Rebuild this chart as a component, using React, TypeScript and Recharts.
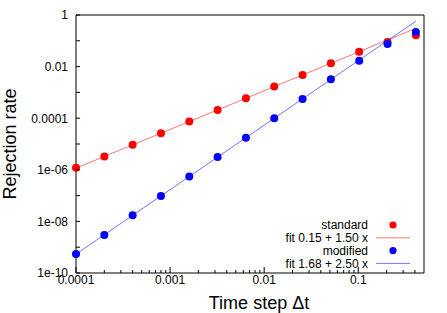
import React from 'react';
import { ComposedChart, Scatter, XAxis, YAxis } from 'recharts';

const timeSteps = [0.0001, 0.0002, 0.0004, 0.0008, 0.0016, 0.0032, 0.0064, 0.0128, 0.0256, 0.0512, 0.1024, 0.2048, 0.4096];
const standardRates = [1.2e-6, 3.3e-6, 9.3e-6, 2.6e-5, 7.4e-5, 2.1e-4, 5.9e-4, 1.68e-3, 4.75e-3, 0.0134, 0.038, 0.09, 0.165];
const modifiedRates = [5.4e-10, 3.0e-9, 1.72e-8, 9.7e-8, 5.5e-7, 3.1e-6, 1.76e-5, 9.9e-5, 5.6e-4, 3.2e-3, 0.017, 0.075, 0.22];

const fitX = [0.0001, 0.4096];
const standardFitY = [1.16e-6, 0.304];
const modifiedFitY = [5.37e-10, 0.576];

const seriesNames = ['standard', 'fit 0.15 + 1.50 x', 'modified', 'fit 1.68 + 2.50 x'];

const xMajorTicks = [0.0001, 0.001, 0.01, 0.1];
const xTickLabels = ['0.0001', '0.001', '0.01', '0.1'];
const xMinorTicks = [
  0.0002, 0.0003, 0.0004, 0.0005, 0.0006, 0.0007, 0.0008, 0.0009,
  0.002, 0.003, 0.004, 0.005, 0.006, 0.007, 0.008, 0.009,
  0.02, 0.03, 0.04, 0.05, 0.06, 0.07, 0.08, 0.09,
  0.2, 0.3, 0.4,
];
const yTicks = [1e-10, 1e-9, 1e-8, 1e-7, 1e-6, 1e-5, 1e-4, 1e-3, 1e-2, 1e-1, 1];
const yTickLabels = ['1e-10', '', '1e-08', '', '1e-06', '', '0.0001', '', '0.01', '', '1'];

const RED = '#ff0000';
const BLUE = '#0000ff';
const FONT = '"Liberation Sans", Arial, Helvetica, sans-serif';

const standardData = timeSteps.map((x, i) => ({ x, y: standardRates[i] }));
const modifiedData = timeSteps.map((x, i) => ({ x, y: modifiedRates[i] }));
const standardFit = fitX.map((x, i) => ({ x, y: standardFitY[i] }));
const modifiedFit = fitX.map((x, i) => ({ x, y: modifiedFitY[i] }));

const allXTicks = [...xMajorTicks, ...xMinorTicks];

const BottomTick = (props: any) => {
  const { x, y, payload } = props;
  const idx = xMajorTicks.indexOf(payload.value);
  const major = idx >= 0;
  return (
    <g>
      <line x1={x} x2={x} y1={y} y2={y - (major ? 6 : 3)} stroke="#000" strokeWidth={1} />
      {major && (
        <text x={x} y={y + 11} textAnchor="middle" fontSize={12} fontFamily={FONT} fill="#000">
          {xTickLabels[idx]}
        </text>
      )}
    </g>
  );
};

const TopTick = (props: any) => {
  const { x, y, payload } = props;
  const major = xMajorTicks.indexOf(payload.value) >= 0;
  return <line x1={x} x2={x} y1={y} y2={y + (major ? 6 : 3)} stroke="#000" strokeWidth={1} />;
};

const LeftTick = (props: any) => {
  const { x, y, payload } = props;
  const idx = yTicks.indexOf(payload.value);
  const label = idx >= 0 ? yTickLabels[idx] : '';
  return (
    <g>
      <line x1={x} x2={x + 4} y1={y} y2={y} stroke="#000" strokeWidth={1} />
      {label && (
        <text x={x - 8} y={y + 4.3} textAnchor="end" fontSize={12} fontFamily={FONT} fill="#000">
          {label}
        </text>
      )}
    </g>
  );
};

const RightTick = (props: any) => {
  const { x, y } = props;
  return <line x1={x} x2={x - 4} y1={y} y2={y} stroke="#000" strokeWidth={1} />;
};

const Dot = (color: string) => (props: any) => (
  <circle cx={props.cx} cy={props.cy} r={4} fill={color} />
);
const NoShape = () => <g />;

const LegendOverlay = () => {
  const rows = [
    { name: seriesNames[0], color: RED, kind: 'dot' },
    { name: seriesNames[1], color: RED, kind: 'line' },
    { name: seriesNames[2], color: BLUE, kind: 'dot' },
    { name: seriesNames[3], color: BLUE, kind: 'line' },
  ];
  return (
    <svg width={447} height={313} style={{ position: 'absolute', left: 0, top: 0, pointerEvents: 'none' }}>
      {rows.map((r, i) => {
        const cy = 225 + i * 12.8;
        return (
          <g key={r.name}>
            <text x={368} y={cy + 4.3} textAnchor="end" fontSize={12} fontFamily={FONT} fill="#000">
              {r.name}
            </text>
            {r.kind === 'dot' ? (
              <circle cx={393} cy={cy} r={3.6} fill={r.color} />
            ) : (
              <line x1={376} x2={410} y1={cy} y2={cy} stroke={r.color} strokeOpacity={0.55} strokeWidth={1} />
            )}
          </g>
        );
      })}
    </svg>
  );
};

const XLabel = (props: any) => {
  const vb = props.viewBox || {};
  return (
    <text x={vb.x + vb.width / 2 + 9} y={309} textAnchor="middle" fontSize={18} fontFamily={FONT} fill="#000">
      Time step Δt
    </text>
  );
};

const YLabel = (props: any) => {
  const vb = props.viewBox || {};
  const cy = vb.y + vb.height / 2;
  return (
    <text
      x={16}
      y={cy}
      transform={`rotate(-90 16 ${cy})`}
      textAnchor="middle"
      fontSize={18}
      fontFamily={FONT}
      fill="#000"
    >
      Rejection rate
    </text>
  );
};

export default function App() {
  return (
    <div style={{ position: 'absolute', left: 0, top: 0, width: 447, height: 313, background: '#fff' }}>
      <ComposedChart width={447} height={313} margin={{ top: 14, right: 22, bottom: 39, left: 75 }}>
        <XAxis
          xAxisId="b"
          type="number"
          dataKey="x"
          scale="log"
          domain={[0.0001, 0.5]}
          ticks={allXTicks}
          interval={0}
          tick={<BottomTick />}
          tickLine={false}
          tickSize={0}
          tickMargin={0}
          height={1}
          axisLine={{ stroke: '#000' }}
          orientation="bottom"
          label={<XLabel />}
        />
        <XAxis
          xAxisId="t"
          type="number"
          dataKey="x"
          scale="log"
          domain={[0.0001, 0.5]}
          ticks={allXTicks}
          interval={0}
          tick={<TopTick />}
          tickLine={false}
          tickSize={0}
          tickMargin={0}
          height={1}
          axisLine={{ stroke: '#000' }}
          orientation="top"
        />
        <YAxis
          yAxisId="l"
          type="number"
          dataKey="y"
          scale="log"
          domain={[1e-10, 1]}
          ticks={yTicks}
          interval={0}
          tick={<LeftTick />}
          tickLine={false}
          tickSize={0}
          tickMargin={0}
          width={1}
          axisLine={{ stroke: '#000' }}
          orientation="left"
          label={<YLabel />}
        />
        <YAxis
          yAxisId="r"
          type="number"
          dataKey="y"
          scale="log"
          domain={[1e-10, 1]}
          ticks={yTicks}
          interval={0}
          tick={<RightTick />}
          tickLine={false}
          tickSize={0}
          tickMargin={0}
          width={1}
          axisLine={{ stroke: '#000' }}
          orientation="right"
        />
        <Scatter
          name={seriesNames[0]}
          data={standardData}
          xAxisId="b"
          yAxisId="l"
          fill={RED}
          shape={Dot(RED)}
          isAnimationActive={false}
        />
        <Scatter
          name={seriesNames[1]}
          data={standardFit}
          xAxisId="b"
          yAxisId="l"
          line={{ stroke: RED, strokeOpacity: 0.55, strokeWidth: 1 }}
          lineType="joint"
          shape={NoShape}
          isAnimationActive={false}
        />
        <Scatter
          name={seriesNames[2]}
          data={modifiedData}
          xAxisId="b"
          yAxisId="l"
          fill={BLUE}
          shape={Dot(BLUE)}
          isAnimationActive={false}
        />
        <Scatter
          name={seriesNames[3]}
          data={modifiedFit}
          xAxisId="b"
          yAxisId="l"
          line={{ stroke: BLUE, strokeOpacity: 0.55, strokeWidth: 1 }}
          lineType="joint"
          shape={NoShape}
          isAnimationActive={false}
        />
      </ComposedChart>
      <LegendOverlay />
    </div>
  );
}
